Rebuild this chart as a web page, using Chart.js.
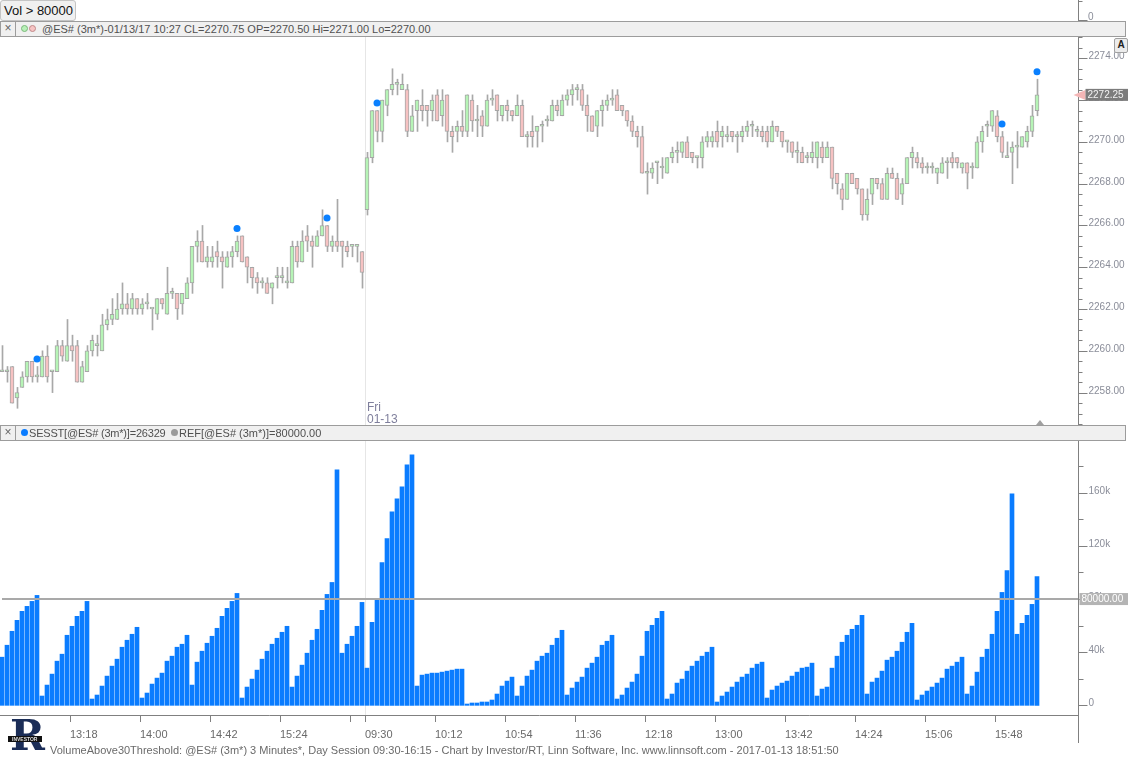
<!DOCTYPE html>
<html>
<head>
<meta charset="utf-8">
<title>VolumeAbove30Threshold @ES# 3m</title>
<script src="https://cdn.jsdelivr.net/npm/chart.js@4.4.0/dist/chart.umd.min.js"></script>
<style>
  body { margin: 0; width: 1128px; height: 757px; background: #fff; position: relative; overflow: hidden;
         font-family: "Liberation Sans", Arial, sans-serif; }
  .abs { position: absolute; }
  #volBtn { left: 0; top: 0; width: 76px; height: 21px; background: #f0f0f0; border: 1px solid #c4c4c4;
            border-radius: 3px; box-sizing: border-box; font-size: 13px; line-height: 19px; padding-left: 3px; color: #111; }
  .band { left: 0; width: 1126px; height: 16px; background: #f0f0f0; border: 1px solid #9c9c9c; box-sizing: border-box;
          font-size: 11px; line-height: 14px; color: #505050; white-space: nowrap; }
  .band .x { position: absolute; left: 0; top: 0; width: 14px; height: 14px; border-right: 1px solid #9c9c9c;
             text-align: center; font-size: 12px; line-height: 13px; color: #666; }
  .dot { position: absolute; top: 3px; width: 7px; height: 7px; border-radius: 50%; box-sizing: border-box; }
  .band .t { position: absolute; top: 0; }
  #aBtn { left: 1114px; top: 38px; width: 12px; height: 13px; border: 1px solid #a0a0a0; border-radius: 2px;
          background: #ececec; font-size: 10px; font-weight: bold; text-align: center; line-height: 12px; color: #222; }
  #footer { left: 50px; top: 744px; font-size: 11px; color: #6a6a6a; white-space: nowrap; }
  #logo { left: 8px; top: 712px; width: 40px; height: 44px; }
</style>
</head>
<body>
<div id="volBtn" class="abs">Vol &gt; 80000</div>
<canvas id="miniAxis" class="abs" width="60" height="22" style="left:1068px;top:0"></canvas>

<div class="abs band" style="top:21px">
  <div class="x">&#215;</div>
  <div class="dot" style="left:20px;background:#b8f0b8;border:1px solid #7ab87a"></div>
  <div class="dot" style="left:28px;background:#f6c4c4;border:1px solid #c08888"></div>
  <div class="t" style="left:41px">@ES# (3m*)-01/13/17 10:27 CL=2270.75 OP=2270.50 Hi=2271.00 Lo=2270.00</div>
</div>

<div class="abs" style="left:0;top:37px;width:1128px;height:388px">
  <canvas id="priceChart" width="1128" height="388"></canvas>
</div>
<div id="aBtn" class="abs">A</div>

<div class="abs band" style="top:425px">
  <div class="x">&#215;</div>
  <div class="dot" style="left:20px;background:#0a7cff"></div>
  <div class="t" style="left:28px;letter-spacing:-0.2px">SESST[@ES# (3m*)]=26329</div>
  <div class="dot" style="left:170px;background:#9a9a9a"></div>
  <div class="t" style="left:178px">REF[@ES# (3m*)]=80000.00</div>
</div>

<div class="abs" style="left:0;top:441px;width:1128px;height:304px">
  <canvas id="volChart" width="1128" height="304"></canvas>
</div>

<canvas id="logo" class="abs" width="40" height="44"></canvas>
<div id="footer" class="abs">VolumeAbove30Threshold: @ES# (3m*) 3 Minutes*, Day Session 09:30-16:15 - Chart by Investor/RT, Linn Software, Inc. www.linnsoft.com - 2017-01-13 18:51:50</div>

<script>
// 3 minute ES bars, 12:36 - 16:12 on 01-12 then 09:30 - 16:12 on 01-13
const priceOpen = [
  2259,2259,2259.25,2257.75,2258.25,2258.75,2259.5,2258.75,2258.75,2259.75,
  2259,2259,2260.25,2259.5,2260.25,2260.25,2258.5,2259,2260,2260.25,
  2260,2261.25,2261.5,2261.5,2262,2262.25,2262,2262.5,2262,2262.25,
  2262,2261.75,2262.5,2261.75,2262.75,2262.75,2262.25,2262.5,2263.25,2265,
  2265.25,2264.25,2264.25,2264.75,2264.5,2264,2264.5,2264.75,2265.5,2264.5,
  2264,2263.5,2263.25,2263.25,2263,2263.5,2263.5,2263.25,2263.25,2265,
  2264.25,2265.5,2265.25,2265,2265.5,2266,2265,2265.25,2265.25,2265,
  2265,2265,2264.75,2266.75,2269.25,2271.5,2270.5,2271.75,2272.5,2272.75,
  2272.5,2272.5,2270.5,2271.5,2271.75,2271.75,2271.5,2272.25,2271.25,2272.25,
  2270.5,2270.5,2270.75,2270.5,2272,2271,2271.25,2270.75,2272,2272.25,
  2271.25,2271.75,2271.5,2271.25,2271.75,2270.25,2270.5,2270.5,2270.75,2271,
  2271,2271.75,2271.25,2272,2272.25,2272.5,2272.5,2271.75,2271.25,2270.75,
  2271.5,2271.75,2272,2272.25,2271.75,2271.5,2271,2270.5,2270.25,2268.5,
  2268.5,2269,2268.75,2268.5,2269.25,2269.5,2269.5,2270,2269.5,2269.25,
  2269.25,2270,2270,2270.5,2270.25,2270.25,2270.5,2270.25,2270.25,2270.5,
  2270.75,2270.5,2270.5,2270.5,2270,2270.75,2270.5,2270,2270,2269.5,
  2269.5,2269.25,2269.25,2269.25,2269.75,2269.25,2269.75,2268.5,2267.75,2267.25,
  2268.5,2268.25,2267.75,2266.5,2267.5,2268.25,2268,2267.25,2268.5,2268.25,
  2267.5,2268,2269.25,2269.25,2269,2268.75,2268.75,2268.5,2268.5,2269,
  2269.25,2269.25,2268.75,2269,2268.75,2268.75,2270,2270.75,2270.75,2271.25,
  2270.25,2269.25,2269.5,2269.75,2269.75,2270,2270.5,2271.5
];
const priceHigh = [
  2260.25,2259.25,2259.25,2258.25,2259,2259.5,2259.5,2259.25,2260,2260.25,
  2259,2260.5,2260.5,2261.5,2260.75,2260.5,2259.5,2260.25,2260.75,2260.75,
  2261.75,2262,2262.5,2262.75,2263.25,2262.75,2262.75,2262.5,2262.5,2262.75,
  2262,2262.5,2262.5,2264,2263,2262.75,2262.75,2263.5,2265,2265.75,
  2266,2265,2265,2265.25,2264.75,2264.75,2265,2265.5,2265.5,2264.5,
  2264,2263.75,2263.5,2263.5,2263.25,2264,2264,2264,2265.25,2265.25,
  2265.75,2266,2265.5,2265.75,2266.75,2266,2265.5,2267.25,2265.25,2265.25,
  2265,2265,2264.75,2269.5,2271.5,2271.5,2272,2272.5,2273.5,2273,
  2273.25,2272.75,2271.75,2272,2272.5,2271.75,2272.25,2272.5,2272.5,2272.25,
  2270.75,2271,2271.5,2272.25,2272.25,2271.75,2271.5,2272.25,2272.5,2272.25,
  2271.75,2272,2271.5,2272.25,2272,2270.5,2271.25,2270.75,2271,2271.25,
  2272,2272,2272.25,2272.5,2272.75,2272.75,2272.75,2272.25,2271.25,2271.5,
  2272,2272.25,2272.5,2272.5,2271.75,2271.5,2271.25,2270.75,2270.75,2269,
  2269,2269,2269.25,2269.25,2269.75,2270,2270,2270.25,2269.5,2269.25,
  2270.25,2270.5,2270.5,2271,2270.75,2270.75,2270.5,2270.5,2270.75,2271,
  2271,2270.75,2270.75,2270.75,2271,2270.75,2270.5,2270,2270,2270,
  2269.75,2269.5,2270,2270,2270,2270,2269.75,2268.5,2268,2268.5,
  2268.5,2268.25,2267.75,2267.75,2268.25,2268.25,2268.25,2268.75,2268.75,2268.5,
  2268.25,2269.25,2269.75,2269.5,2269.25,2269,2269,2268.75,2269.25,2269.25,
  2269.5,2269.25,2269,2269,2269,2270.25,2270.75,2271,2271.5,2271.5,
  2270.5,2270,2270,2270.5,2270.25,2270.75,2271.75,2273
];
const priceLow = [
  2259,2258.5,2257.5,2257.25,2258.25,2258.5,2258.5,2258.5,2258.75,2258.5,
  2258,2259,2259.5,2259.5,2259.5,2258.5,2258.5,2259,2259.75,2259.75,
  2260,2261,2261.25,2261.5,2261.75,2261.75,2261.75,2261.75,2261.75,2262,
  2261,2261.5,2262,2261.75,2262.5,2261.5,2261.75,2262.5,2262.75,2264.25,
  2264.25,2264,2264,2264,2263,2264,2264,2264.5,2264.25,2263.25,
  2263,2262.75,2263,2262.75,2262.25,2263,2263.25,2263,2263.25,2264,
  2264.25,2264.75,2264,2265,2265.5,2264.75,2264.75,2264.75,2264,2264.5,
  2264.5,2264.25,2263,2266.5,2269,2270,2270,2271.25,2272.25,2272.25,
  2272.5,2270.25,2270.5,2270.5,2271,2270.75,2271,2271,2270.75,2270,
  2269.5,2270,2270.25,2270.25,2270.5,2270.25,2270.25,2270.75,2271.75,2271,
  2271,2271,2271,2271.25,2270.25,2269.75,2269.75,2269.75,2270,2270.75,
  2271,2271.25,2271.25,2271.75,2271.75,2272,2271.5,2270.5,2270.5,2270.25,
  2270.75,2271.5,2271.75,2271.5,2271.25,2270.75,2270.25,2269.75,2268.5,2267.5,
  2268.25,2268,2268.25,2268.5,2269,2269,2269.25,2269.25,2269,2268.75,
  2268.75,2269.75,2269.75,2269.75,2269.75,2270,2270,2269.5,2270,2270.25,
  2270.25,2270.25,2270,2269.75,2270,2270.25,2269.75,2269.5,2269.25,2269,
  2269,2269,2269,2268.75,2269,2269.25,2267.75,2267.5,2266.75,2267.25,
  2268,2267.5,2266.25,2266.25,2267,2267.75,2267.25,2267.25,2268.25,2267.25,
  2267,2268,2268.75,2268.75,2268.5,2268.5,2268.5,2268,2268.5,2268.25,
  2268.75,2268.75,2268.5,2267.75,2268.25,2268.75,2269.5,2270.25,2270.5,2270,
  2269.25,2269.25,2268,2268.75,2269.75,2269.75,2270.25,2271.25
];
const priceClose = [
  2259,2259,2257.5,2258,2258.75,2259.5,2258.75,2258.75,2259.75,2258.75,
  2259,2260.25,2259.75,2260.25,2260,2258.5,2259.25,2260,2260.5,2260.25,
  2261.25,2261.5,2261.75,2262,2262.25,2262,2262.5,2262,2262.25,2262.25,
  2262,2262.5,2262.25,2262.75,2262.75,2262,2262.75,2263.25,2265,2265.25,
  2264.25,2264.5,2264.5,2264.5,2264.25,2264.5,2264.75,2265.25,2264.25,2264,
  2263.5,2263.25,2263.25,2262.75,2263.25,2263.5,2263.5,2263.25,2265,2264.25,
  2265.25,2265.25,2265,2265.5,2266,2265,2265.25,2265,2265,2264.75,
  2265,2265,2263.75,2269.25,2271.5,2270.5,2272,2272.5,2272.75,2272.75,
  2272.75,2270.5,2271.25,2272,2271.5,2271.5,2272,2271,2272,2270.5,
  2270.25,2270.75,2270.5,2272.25,2271,2271,2270.75,2272,2272,2271.5,
  2271.75,2271.5,2271.25,2271.75,2270.25,2270.25,2270.25,2270.75,2270.75,2271,
  2271.75,2271.5,2272,2272.25,2272.5,2272.5,2271.75,2271.25,2270.5,2271.5,
  2271.75,2272,2272,2271.5,2271.5,2271,2270.5,2270.25,2268.5,2268.5,
  2268.75,2269,2268.75,2269.25,2269.5,2269.5,2270,2269.25,2269.25,2269.25,
  2270,2270.25,2270.25,2270,2270.5,2270.25,2270.25,2270.25,2270.5,2270.75,
  2270.75,2270.5,2270.25,2270,2270.75,2270.5,2270,2270,2269.5,2269.5,
  2269,2269.25,2269.5,2270,2269.25,2269.75,2268.25,2268,2267.25,2268.5,
  2268,2267.75,2266.5,2267.25,2268.25,2268,2267.25,2268.5,2268.25,2267.25,
  2268,2269.25,2269.5,2269,2268.75,2268.75,2268.75,2268.75,2269,2269,
  2269,2269,2269,2268.5,2268.75,2270,2270.5,2270.75,2271.5,2270.25,
  2269.5,2269.25,2269.75,2269.75,2270.25,2270.5,2271.25,2272.25
];
// session volume (SESST), thousands of contracts
const volumeK = [
  36.25,45.25,55.75,64,70.75,74.5,78.25,82.75,7,15.25,
  23.5,33.25,38.5,52.75,59.5,67,70.75,78.25,4.75,7.75,
  14.5,22,29.5,34.75,43.75,49,53.5,58.75,5.5,9.25,
  16,20.5,24.25,33.25,37,43.75,46,52.75,15.25,32.5,
  40.75,46.75,52,58,67,73,78.25,84.25,5.5,13.75,
  19.75,26.5,34.75,40.75,46,50.5,55,59.5,13.75,22,
  30.25,39.25,49,57.25,71.5,83.5,92.5,177.25,39.25,46,
  52,59.5,77.5,28,62.5,80.25,107.5,125.5,145.75,155.5,
  164.5,181,188.5,14.5,22.75,23.5,24.25,24.25,25,25.75,
  26.5,27.25,27.25,1,1.75,1.75,2.5,2.5,4,8.5,
  14.5,18.25,21.25,7,14.5,22,26.5,33.25,37,39.25,
  45.25,50.5,56.5,7.75,13,17.5,21.25,28,31.75,36.25,
  45.25,48.25,52.75,4.75,7.75,13,17.5,23.5,37,55.75,
  60.25,65.5,70.75,4.75,8.5,16.75,19.75,25.75,29.5,33.25,
  37,40,43.75,2.5,7,10,13.75,17.5,21.25,23.5,
  28,31,32.5,5.5,11.5,14.5,16.75,18.25,22,25,
  28,28.75,31.75,7,12.25,13.75,28,37,47.5,52.75,
  57.25,60.25,67.75,8.5,17.5,20.5,25.75,34,36.25,40.75,
  47.5,55,61.75,4,7.75,10.75,13.75,16.75,20.5,27.25,
  29.5,32.5,36.25,8.5,14.5,25,36.25,42.25,53.5,70.75,
  85,101.5,159.25,53.5,61.75,67.75,76,97
];
const refLevelK = 80;
const lastPrice = 2272.25;
const dayBreak = 72.6;           // between last 01-12 bar and first 01-13 bar
const dayLabel = ['Fri', '01-13'];
const timeTickIdx = [14, 28, 42, 56, 70, 73, 87, 101, 115, 129, 143, 157, 171, 185, 199];
const timeTickLabels = ['13:18', '14:00', '14:42', '15:24', '', '09:30', '10:12', '10:54', '11:36', '12:18', '13:00', '13:42', '14:24', '15:06', '15:48'];
const priceLabelStep = 2, priceMinorStep = 0.5;
const volTickStepK = 20, volLabelStepK = 40;

const idx = priceOpen.map((_, i) => i);
const xMin = -0.4, xMax = 215.2;
const axisFont = '10px "Liberation Sans", Arial, sans-serif';
const axisColor = '#808080';
const labelColor = '#8a8d99';

// "Vol > 80000" marker: first bar whose volume crosses above the REF level
const crossIdx = idx.filter(i => volumeK[i] > refLevelK && (i === 0 || volumeK[i - 1] <= refLevelK));

function drawSeparator(chart) {
  const {ctx, chartArea, scales: {x}} = chart;
  const px = Math.round(x.getPixelForValue(dayBreak)) + 0.5;
  ctx.save();
  ctx.strokeStyle = '#e6e6e6';
  ctx.lineWidth = 1;
  ctx.beginPath();
  ctx.moveTo(px, 0);
  ctx.lineTo(px, chartArea.bottom);
  ctx.stroke();
  ctx.restore();
}

const priceAxisPlugin = {
  id: 'priceAxis',
  beforeDatasetsDraw(chart) {
    drawSeparator(chart);
    const {ctx, chartArea, scales: {x}} = chart;
    ctx.save();
    ctx.fillStyle = '#7f7f9c';
    ctx.font = '12px "Liberation Sans", Arial, sans-serif';
    ctx.textBaseline = 'alphabetic';
    const px = x.getPixelForValue(dayBreak) + 2;
    ctx.fillText(dayLabel[0], px, chartArea.bottom - 14);
    ctx.fillText(dayLabel[1], px, chartArea.bottom - 2);
    ctx.restore();
  },
  afterDraw(chart) {
    const {ctx, chartArea, scales: {x, y}} = chart;
    const ax = chartArea.right + 0.5;
    ctx.save();
    ctx.strokeStyle = axisColor;
    ctx.lineWidth = 1;
    ctx.beginPath();
    ctx.moveTo(ax, 0);
    ctx.lineTo(ax, chart.height);
    ctx.stroke();
    ctx.font = axisFont;
    ctx.fillStyle = labelColor;
    ctx.textBaseline = 'alphabetic';
    const first = Math.ceil(y.min / priceMinorStep) * priceMinorStep;
    for (let p = first; p <= y.max; p += priceMinorStep) {
      const py = Math.round(y.getPixelForValue(p)) + 0.5;
      const major = Math.abs(p / priceLabelStep - Math.round(p / priceLabelStep)) < 1e-9;
      ctx.beginPath();
      ctx.moveTo(ax, py);
      ctx.lineTo(ax + (major ? 9 : 4), py);
      ctx.stroke();
      if (major) ctx.fillText(p.toFixed(2), ax + 10, py);
    }
    // last price flag
    const ly = y.getPixelForValue(lastPrice);
    ctx.fillStyle = '#f4b6b6';
    ctx.beginPath();
    ctx.moveTo(ax - 5, ly);
    ctx.lineTo(ax + 7, ly - 5);
    ctx.lineTo(ax + 7, ly + 5);
    ctx.closePath();
    ctx.fill();
    ctx.fillStyle = '#7c7c7c';
    ctx.fillRect(ax + 7, ly - 6, 50, 12);
    ctx.fillStyle = '#f2f2f2';
    ctx.textBaseline = 'middle';
    ctx.fillText(lastPrice.toFixed(2), ax + 9, ly + 0.5);
    // small cursor triangle at bottom
    const tx = x.getPixelForValue(idx.length - 1) + 3;
    ctx.fillStyle = '#a0a0a0';
    ctx.beginPath();
    ctx.moveTo(tx - 4, chartArea.bottom);
    ctx.lineTo(tx + 4, chartArea.bottom);
    ctx.lineTo(tx, chartArea.bottom - 5);
    ctx.closePath();
    ctx.fill();
    ctx.restore();
  }
};

const volAxisPlugin = {
  id: 'volAxis',
  beforeDatasetsDraw(chart) {
    drawSeparator(chart);
  },
  afterDraw(chart) {
    const {ctx, chartArea, scales: {y}} = chart;
    const ax = chartArea.right + 0.5;
    ctx.save();
    ctx.strokeStyle = axisColor;
    ctx.lineWidth = 1;
    ctx.beginPath();
    ctx.moveTo(ax, 0);
    ctx.lineTo(ax, chartArea.bottom + 28);
    ctx.stroke();
    ctx.font = axisFont;
    ctx.fillStyle = labelColor;
    ctx.textBaseline = 'alphabetic';
    for (let v = 0; v <= y.max; v += volTickStepK) {
      const py = Math.round(y.getPixelForValue(v)) + 0.5;
      const major = v % volLabelStepK === 0;
      ctx.beginPath();
      ctx.moveTo(ax, py);
      ctx.lineTo(ax + (major ? 9 : 5), py);
      ctx.stroke();
      if (major) ctx.fillText(v === 0 ? '0' : v + 'k', ax + 10, py);
    }
    const ry = y.getPixelForValue(refLevelK);
    ctx.fillStyle = '#b4b4b4';
    ctx.fillRect(ax + 1, ry - 6, 50, 12);
    ctx.fillStyle = '#ffffff';
    ctx.textBaseline = 'middle';
    ctx.fillText((refLevelK * 1000).toFixed(2), ax + 3, ry + 0.5);
    ctx.restore();
  }
};

new Chart(document.getElementById('priceChart'), {
  type: 'bar',
  data: {
    datasets: [
      {
        type: 'bar',
        data: idx.map(i => ({x: i, y: [priceLow[i], priceHigh[i]]})),
        xAxisID: 'xw',
        backgroundColor: '#a8a8a8',
        barThickness: 1,
        grouped: false,
        order: 3
      },
      {
        type: 'bar',
        data: idx.map(i => ({x: i, y: [priceOpen[i], priceClose[i]]})),
        xAxisID: 'x',
        backgroundColor: idx.map(i => priceClose[i] >= priceOpen[i] ? '#b6f4b6' : '#f6c2c2'),
        borderColor: '#a6a6a6',
        borderWidth: 1,
        borderSkipped: false,
        barThickness: 4,
        minBarLength: 2,
        grouped: false,
        order: 2
      },
      {
        type: 'scatter',
        data: crossIdx.map(i => ({x: i, y: priceHigh[i] + 0.36})),
        xAxisID: 'x',
        pointRadius: 3.5,
        pointBackgroundColor: '#0a80ff',
        pointBorderWidth: 0,
        order: 1
      }
    ]
  },
  options: {
    responsive: false,
    animation: false,
    layout: {autoPadding: false, padding: {left: 0, right: 50, top: 0, bottom: 0}},
    plugins: {legend: {display: false}, tooltip: {enabled: false}},
    scales: {
      x: {type: 'linear', min: xMin, max: xMax, display: false, offset: false},
      xw: {type: 'linear', min: xMin - 0.1, max: xMax - 0.1, display: false, offset: false},
      y: {type: 'linear', min: 2256.45, max: 2275.02, display: false}
    }
  },
  plugins: [priceAxisPlugin]
});

new Chart(document.getElementById('volChart'), {
  type: 'bar',
  data: {
    datasets: [
      {
        type: 'line',
        data: [{x: 0, y: refLevelK}, {x: xMax, y: refLevelK}],
        borderColor: '#a9a9a9',
        borderWidth: 2,
        pointRadius: 0,
        order: 0
      },
      {
        type: 'bar',
        data: idx.map(i => ({x: i, y: volumeK[i]})),
        backgroundColor: '#0a7cff',
        barThickness: 4,
        grouped: false,
        order: 1
      }
    ]
  },
  options: {
    responsive: false,
    animation: false,
    layout: {autoPadding: false, padding: {left: 0, right: 50, top: 0, bottom: 0}},
    plugins: {legend: {display: false}, tooltip: {enabled: false}},
    scales: {
      x: {
        type: 'linear', min: xMin, max: xMax, position: 'bottom', offset: false,
        afterFit: s => { s.height = 30; },
        afterBuildTicks: s => { s.ticks = timeTickIdx.map(v => ({value: v - 0.4})); },
        grid: {display: true, drawOnChartArea: false, drawTicks: true, tickLength: 7, color: axisColor, offset: false},
        border: {display: true, color: axisColor},
        ticks: {
          autoSkip: false, maxRotation: 0, align: 'start', padding: 6,
          color: '#6a6a6a', font: {size: 11, family: '"Liberation Sans", Arial, sans-serif'},
          callback: (v, k) => timeTickLabels[k]
        }
      },
      y: {type: 'linear', min: -7.275, max: 198.975, display: false}
    }
  },
  plugins: [volAxisPlugin]
});

// tiny axis of the marker panel above the price pane
(function () {
  const c = document.getElementById('miniAxis').getContext('2d');
  c.strokeStyle = axisColor;
  c.beginPath(); c.moveTo(10.5, 0); c.lineTo(10.5, 22); c.stroke();
  c.beginPath(); c.moveTo(10.5, 1.5); c.lineTo(14.5, 1.5); c.moveTo(10.5, 20.5); c.lineTo(19.5, 20.5); c.stroke();
  c.font = axisFont; c.fillStyle = labelColor; c.fillText('0', 20, 20);
})();

// Investor/RT logo
(function () {
  const c = document.getElementById('logo').getContext('2d');
  c.fillStyle = '#1b2d57';
  c.font = 'bold 42px "DejaVu Serif", serif';
  c.fillText('R', 2, 38);
  c.fillStyle = '#111';
  c.fillRect(0, 24, 34, 6);
  c.fillStyle = '#ddd';
  c.font = 'bold 5px "Liberation Sans", sans-serif';
  c.fillText('INVESTOR', 4, 29);
})();
</script>
</body>
</html>
